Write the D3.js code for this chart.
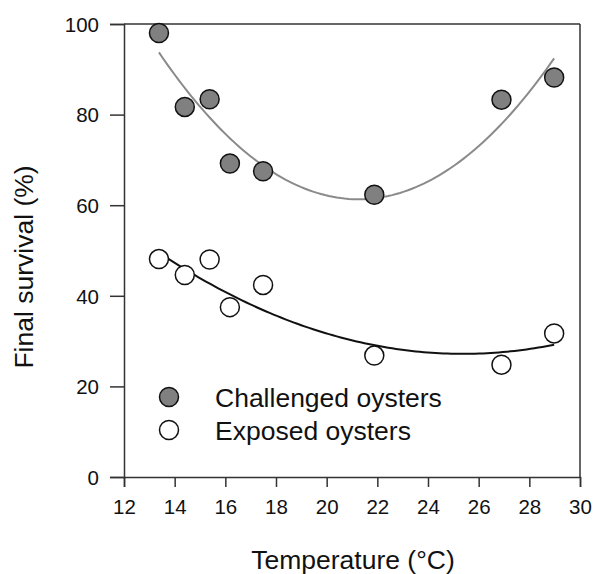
<!DOCTYPE html>
<html>
<head>
<meta charset="utf-8">
<script src="https://cdn.jsdelivr.net/npm/d3@7"></script>
<style>
  html, body { margin: 0; padding: 0; background: #fff; }
  svg { display: block; font-family: "Liberation Sans", Arial, sans-serif; }
</style>
</head>
<body>
<svg id="chart" width="594" height="574"></svg>
<script>
// Temperatures (°C) of the trials
const temperature = [13.38, 14.4, 15.38, 16.18, 17.49, 21.88, 26.9, 28.98];
// Final survival (%) per group
const challenged = [98.0, 81.7, 83.4, 69.2, 67.5, 62.3, 83.3, 88.2];
const exposed = [48.1, 44.6, 48.0, 37.5, 42.4, 26.8, 24.8, 31.7];
// Quadratic fits: survival = a*T^2 + b*T + c
const fitChallenged = [0.522, -22.195, 297.24];
const fitExposed = [0.155, -7.868, 127.04];
// Axis ticks
const xTicks = [12, 14, 16, 18, 20, 22, 24, 26, 28, 30];
const yTicks = [0, 20, 40, 60, 80, 100];
const legendLabels = ["Challenged oysters", "Exposed oysters"];

const svg = d3.select("#chart");
const W = 594, H = 574;
const m = { left: 124, top: 24, right: 14, bottom: 97 };
const iw = W - m.left - m.right, ih = H - m.top - m.bottom;
const axisColor = "#333";

const x = d3.scaleLinear().domain([12, 30]).range([0, iw]);
const y = d3.scaleLinear().domain([0, 100]).range([ih, 0]);

const g = svg.append("g").attr("transform", `translate(${m.left},${m.top})`);

// Frame: top and right edges
g.append("line").attr("x1", 0).attr("x2", iw).attr("y1", 0).attr("y2", 0)
  .attr("stroke", axisColor).attr("stroke-width", 1.5);
g.append("line").attr("x1", iw).attr("x2", iw).attr("y1", 0).attr("y2", ih)
  .attr("stroke", axisColor).attr("stroke-width", 1.5);

// Bottom axis
const xAxis = g.append("g").attr("transform", `translate(0,${ih})`)
  .call(d3.axisBottom(x).tickValues(xTicks).tickSize(10).tickPadding(12).tickFormat(d3.format("d")));
// Left axis
const yAxis = g.append("g")
  .call(d3.axisLeft(y).tickValues(yTicks).tickSize(14).tickPadding(11).tickFormat(d3.format("d")));

[xAxis, yAxis].forEach(a => {
  a.select(".domain").attr("stroke", axisColor).attr("stroke-width", 1.5);
  a.selectAll(".tick line").attr("stroke", axisColor).attr("stroke-width", 1.5);
  a.selectAll(".tick text").attr("fill", "#111").style("font-size", "20.5px")
    .style("font-family", "'Liberation Sans', Arial, sans-serif");
});
yAxis.selectAll(".tick text").attr("dy", "0.36em");

// Fitted curves across the sampled temperature range
const [tMin, tMax] = d3.extent(temperature);
const samples = d3.range(0, 101).map(i => tMin + (tMax - tMin) * i / 100);
const poly = c => t => c[0] * t * t + c[1] * t + c[2];
const line = fn => d3.line().x(t => x(t)).y(t => y(fn(t)));

g.append("path").datum(samples).attr("d", line(poly(fitChallenged)))
  .attr("fill", "none").attr("stroke", "#8a8a8a").attr("stroke-width", 2);
g.append("path").datum(samples).attr("d", line(poly(fitExposed)))
  .attr("fill", "none").attr("stroke", "#111").attr("stroke-width", 2);

// Points
const r = 9.5;
g.selectAll("circle.chal").data(temperature).join("circle").attr("class", "chal")
  .attr("cx", d => x(d)).attr("cy", (d, i) => y(challenged[i])).attr("r", r)
  .attr("fill", "#808080").attr("stroke", "#111").attr("stroke-width", 1.5);
g.selectAll("circle.expo").data(temperature).join("circle").attr("class", "expo")
  .attr("cx", d => x(d)).attr("cy", (d, i) => y(exposed[i])).attr("r", r)
  .attr("fill", "#fff").attr("stroke", "#111").attr("stroke-width", 1.5);

// Legend
const legend = svg.append("g").attr("transform", "translate(169,397)");
const fills = ["#808080", "#fff"];
legendLabels.forEach((lab, i) => {
  const row = legend.append("g").attr("transform", `translate(0,${i * 33})`);
  row.append("circle").attr("r", r).attr("fill", fills[i]).attr("stroke", "#111").attr("stroke-width", 1.5);
  row.append("text").attr("x", 46).attr("dy", "0.36em").attr("fill", "#111")
    .style("font-size", "26.5px").text(lab);
});

// Axis titles
svg.append("text").attr("x", m.left + iw / 2 + 1).attr("y", 569).attr("text-anchor", "middle")
  .attr("fill", "#111").style("font-size", "26.5px").text("Temperature (°C)");
svg.append("text").attr("transform", "translate(33,267) rotate(-90)").attr("text-anchor", "middle")
  .attr("fill", "#111").style("font-size", "26.5px").text("Final survival (%)");
</script>
</body>
</html>
